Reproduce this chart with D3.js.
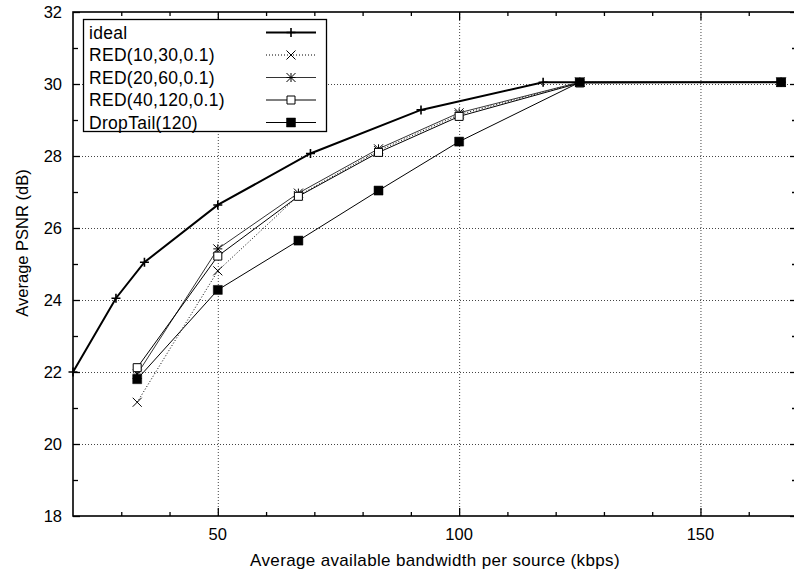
<!DOCTYPE html>
<html><head><meta charset="utf-8">
<script src="https://cdn.jsdelivr.net/npm/d3@7"></script>
<style>
body{margin:0;background:#fff;}
svg{display:block;}
text{font-family:"Liberation Sans",Arial,Helvetica,sans-serif;fill:#000;}
</style></head>
<body>
<svg id="chart" width="794" height="574"></svg>
<script>
// ---- data ----
const idealX   = [20, 28.9, 34.8, 50, 69.2, 92.1, 117.4, 125, 166.7];
const idealY   = [22.0, 24.05, 25.05, 26.64, 28.07, 29.28, 30.05, 30.05, 30.05];
const redX     = [33.3, 50, 66.7, 83.3, 100, 125, 166.7];
const red10Y   = [21.16, 24.81, 26.9, 28.15, 29.15, 30.05, 30.05];
const red20Y   = [21.94, 25.42, 26.97, 28.2, 29.2, 30.05, 30.05];
const red40Y   = [22.12, 25.22, 26.88, 28.1, 29.1, 30.03, 30.05];
const dropY    = [21.8, 24.28, 25.65, 27.04, 28.4, 30.05, 30.05];
const xMajorTicks = [50, 100, 150];
const xMinorTicks = [30, 40, 60, 70, 80, 90, 110, 120, 130, 140, 160];
const yMajorTicks = [18, 20, 22, 24, 26, 28, 30, 32];
const yMinorTicks = [19, 21, 23, 25, 27, 29, 31];
const seriesNames = ["ideal", "RED(10,30,0.1)", "RED(20,60,0.1)", "RED(40,120,0.1)", "DropTail(120)"];
const xTitle = "Average available bandwidth per source (kbps)";
const yTitle = "Average PSNR (dB)";

const series = [
  {name: seriesNames[0], xs: idealX, ys: idealY, width: 2, dash: null, color: "#000", marker: "plus"},
  {name: seriesNames[1], xs: redX, ys: red10Y, width: 1, dash: "1,2", color: "#000", marker: "cross"},
  {name: seriesNames[2], xs: redX, ys: red20Y, width: 1, dash: null, color: "#333", marker: "star"},
  {name: seriesNames[3], xs: redX, ys: red40Y, width: 1, dash: null, color: "#000", marker: "box"},
  {name: seriesNames[4], xs: redX, ys: dropY, width: 1, dash: null, color: "#000", marker: "fbox"}
];

// ---- layout ----
const L = 73, R = 797, T = 12, B = 516;
const x = d3.scaleLinear().domain([20, 170]).range([L, R]);
const y = d3.scaleLinear().domain([18, 32]).range([B, T]);
const svg = d3.select("#chart");

// grid
const gridStyle = g => g.selectAll("line").attr("stroke", "#444").attr("stroke-width", 1).attr("stroke-dasharray", "1,2");
svg.append("g").attr("transform", `translate(0,${B})`)
  .call(d3.axisBottom(x).tickValues(xMajorTicks).tickSize(-(B - T)).tickFormat(""))
  .call(g => g.select(".domain").remove()).call(gridStyle);
svg.append("g").attr("transform", `translate(${L},0)`)
  .call(d3.axisLeft(y).tickValues(yMajorTicks.filter(v => v > 18 && v < 32)).tickSize(-(R - L)).tickFormat(""))
  .call(g => g.select(".domain").remove()).call(gridStyle);

// axes ticks (inward)
function tickAxis(axis, transform, vals, size) {
  const g = svg.append("g").attr("transform", transform)
    .call(axis.tickValues(vals).tickSize(size).tickPadding(0).tickFormat(""));
  g.select(".domain").remove();
  g.selectAll("line").attr("stroke", "#000").attr("stroke-width", 1.3);
  return g;
}
tickAxis(d3.axisBottom(x), `translate(0,${B})`, xMajorTicks, -8);
tickAxis(d3.axisBottom(x), `translate(0,${B})`, xMinorTicks, -4);
tickAxis(d3.axisTop(x), `translate(0,${T})`, xMajorTicks, -8);
tickAxis(d3.axisTop(x), `translate(0,${T})`, xMinorTicks, -4);
tickAxis(d3.axisLeft(y), `translate(${L},0)`, yMajorTicks, -7);
tickAxis(d3.axisLeft(y), `translate(${L},0)`, yMinorTicks, -5);
tickAxis(d3.axisRight(y), `translate(${R},0)`, yMajorTicks, -7);
tickAxis(d3.axisRight(y), `translate(${R},0)`, yMinorTicks, -5);

// tick labels
svg.append("g").selectAll("text").data(xMajorTicks).join("text")
  .attr("x", d => x(d)).attr("y", 540).attr("text-anchor", "middle")
  .attr("font-size", 16.5).text(d => d);
svg.append("g").selectAll("text").data(yMajorTicks).join("text")
  .attr("x", 62).attr("y", d => y(d) + 6).attr("text-anchor", "end")
  .attr("font-size", 16.5).text(d => d);

// border
svg.append("rect").attr("x", L).attr("y", T).attr("width", R - L).attr("height", B - T)
  .attr("fill", "none").attr("stroke", "#000").attr("stroke-width", 1.6);

// markers
function markerPath(type, cx, cy) {
  const s = 4.5;
  switch (type) {
    case "plus": return `M${cx - s},${cy}H${cx + s}M${cx},${cy - s}V${cy + s}`;
    case "cross": return `M${cx - s},${cy - s}L${cx + s},${cy + s}M${cx - s},${cy + s}L${cx + s},${cy - s}`;
    case "star": return `M${cx - s},${cy}H${cx + s}M${cx},${cy - s}V${cy + s}M${cx - s},${cy - s}L${cx + s},${cy + s}M${cx - s},${cy + s}L${cx + s},${cy - s}`;
    case "box": return `M${cx - 4},${cy - 4}h8v8h-8z`;
    case "fbox": return `M${cx - 4.5},${cy - 4.5}h9v9h-9z`;
  }
}
function drawMarker(g, s, cx, cy) {
  const p = g.append("path").attr("d", markerPath(s.marker, cx, cy)).attr("stroke", "#000");
  if (s.marker === "fbox") p.attr("fill", "#000").attr("stroke-width", 0.5);
  else if (s.marker === "box") p.attr("fill", "#fff").attr("stroke-width", 1);
  else p.attr("fill", "none").attr("stroke-width", s.marker === "plus" ? 1.6 : 1);
}

const line = d3.line().x(d => x(d[0])).y(d => y(d[1]));
series.forEach(s => {
  const pts = s.xs.map((v, i) => [v, s.ys[i]]);
  svg.append("path").datum(pts).attr("d", line).attr("fill", "none")
    .attr("stroke", s.color).attr("stroke-width", s.width)
    .attr("stroke-dasharray", s.dash);
  const g = svg.append("g");
  pts.forEach(p => drawMarker(g, s, x(p[0]), y(p[1])));
});

// legend
const lg = svg.append("g");
lg.append("rect").attr("x", 83.5).attr("y", 19.5).attr("width", 243).attr("height", 112)
  .attr("fill", "#fff").attr("stroke", "#000").attr("stroke-width", 1.3);
series.forEach((s, i) => {
  const cy = 32.5 + i * 22.5;
  lg.append("text").attr("x", 89).attr("y", cy + 6.2).attr("font-size", 17.5)
    .attr("letter-spacing", 0.3).text(s.name);
  lg.append("line").attr("x1", 266).attr("x2", 316).attr("y1", cy).attr("y2", cy)
    .attr("stroke", s.color).attr("stroke-width", s.width).attr("stroke-dasharray", s.dash);
  drawMarker(lg, s, 291, cy);
});

// axis titles
svg.append("text").attr("x", 435).attr("y", 566).attr("text-anchor", "middle")
  .attr("font-size", 17).attr("letter-spacing", 0.35).text(xTitle);
svg.append("text").attr("transform", "translate(28,243) rotate(-90)").attr("text-anchor", "middle")
  .attr("font-size", 16.5).text(yTitle);
</script>
</body></html>
